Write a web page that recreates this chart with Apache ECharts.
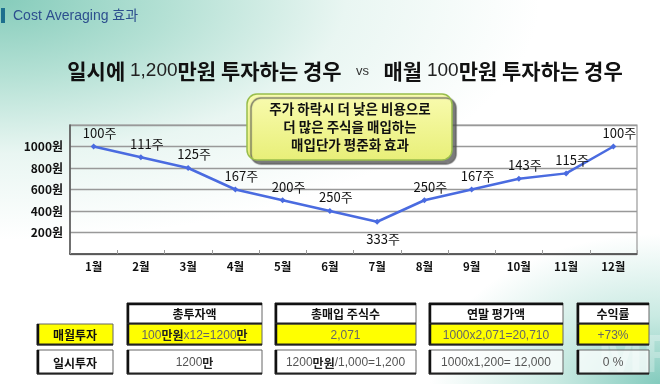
<!DOCTYPE html>
<html><head><meta charset="utf-8">
<script src="https://cdn.jsdelivr.net/npm/echarts@6/dist/echarts.min.js"></script>
<style>
html,body{margin:0;padding:0;}
body{width:660px;height:384px;overflow:hidden;
background:
 radial-gradient(ellipse 230px 150px at 100% 100%, rgba(125,200,186,0.95) 0%, rgba(165,220,207,0.6) 45%, rgba(255,255,255,0) 100%),
 radial-gradient(ellipse 540px 240px at 0% 0%, #86ccbb 0%, #b5e1d5 32%, #e9f6f2 64%, #ffffff 100%);
}
#c{width:660px;height:384px;}
</style></head>
<body><div id="c"></div>
<script>
// ---- data ----
const months = ['1월','2월','3월','4월','5월','6월','7월','8월','9월','10월','11월','12월'];
const prices = [1000, 900, 800, 600, 500, 400, 300, 500, 600, 700, 750, 1000];
const shares = [100, 111, 125, 167, 200, 250, 333, 250, 167, 143, 115, 100];
const yMin = 0, yMax = 1200, yStep = 200;
const headerTitle = 'Cost Averaging 효과';
const calloutLines = ['주가 하락시 더 낮은 비용으로', '더 많은 주식을 매입하는', '매입단가 평준화 효과'];
const tableHeaders = ['총투자액', '총매입 주식수', '연말 평가액', '수익률'];
const rowLabels = ['매월투자', '일시투자'];
const rowMonthly = ['100{b|만원}x12=1200{b|만}', '2,071', '1000x2,071=20,710', '+73%'];
const rowLump = ['1200{b|만}', '1200{b|만원}/1,000=1,200', '1000x1,200= 12,000', '0 %'];

const KR = '"Noto Sans CJK KR", "Noto Sans", sans-serif';
const NUM = '"Liberation Sans", Arial, "Noto Sans CJK KR", sans-serif';
const chart = echarts.init(document.getElementById('c'), null, {renderer:'canvas'});
const minIdx = prices.indexOf(Math.min(...prices));

// ---- table graphic ----
const cols = [[127,135],[275,141],[429,134],[577,72]];
const labelCol = [37,76];
const yHead = 303, hHead = 21, yR1 = 324, hR1 = 21, yR2 = 350, hR2 = 24;
const g = [];
function cell(x,y,w,h,fill,txt,bold,color,topThick,fam){
  g.push({type:'rect', shape:{x:x,y:y,width:w,height:h}, style:{fill:fill, stroke:'#666', lineWidth:1}, z:20});
  g.push({type:'line', shape:{x1:x+1,y1:y,x2:x+1,y2:y+h}, style:{stroke:'#111', lineWidth:2.5}, z:21});
  g.push({type:'line', shape:{x1:x,y1:y+h-0.5,x2:x+w,y2:y+h-0.5}, style:{stroke:'#222', lineWidth:1.8}, z:21});
  if(topThick) g.push({type:'line', shape:{x1:x,y1:y+1,x2:x+w,y2:y+1}, style:{stroke:'#111', lineWidth:2.5}, z:21});
  g.push({type:'text', x:x+w/2, y:y+h/2+1, z:22, style:{text:txt, align:'center', verticalAlign:'middle',
    fontFamily:fam, fontSize:12, fontWeight:bold?'bold':'normal', fill:color,
    rich:{b:{fontFamily:KR, fontSize:12, fontWeight:'bold', fill:'#222'}}}});
}
tableHeaders.forEach((t,i)=>cell(cols[i][0], yHead, cols[i][1], hHead, '#ffffff', t, true, '#111', true, KR));
rowMonthly.forEach((t,i)=>cell(cols[i][0], yR1, cols[i][1], hR1, '#ffff00', t, false, '#666', false, NUM));
rowLump.forEach((t,i)=>cell(cols[i][0], yR2, cols[i][1], hR2, 'rgba(255,255,255,0.75)', t, false, '#555', false, NUM));
cell(labelCol[0], yR1, labelCol[1], hR1, '#ffff00', rowLabels[0], true, '#111', false, KR);
cell(labelCol[0], yR2, labelCol[1], hR2, '#ffffff', rowLabels[1], true, '#111', false, KR);

// header, title, callout
g.push({type:'rect', shape:{x:1,y:8,width:4,height:15}, style:{fill:'#1d6f8e'}});
g.push({type:'text', x:13, y:16, style:{text:headerTitle, fontFamily:NUM, fontSize:14, fill:'#2d4f8e', verticalAlign:'middle'}});
g.push({type:'text', x:345, y:71, style:{
  text:'{b|일시에 }{n|1,200}{b|만원 투자하는 경우}{v|    vs    }{b|매월 }{n|100}{b|만원 투자하는 경우}',
  align:'center', verticalAlign:'middle',
  rich:{
    b:{fontFamily:KR, fontSize:21, fontWeight:'bold', fill:'#111'},
    n:{fontFamily:NUM, fontSize:19, fill:'#222'},
    v:{fontFamily:NUM, fontSize:13, fill:'#333'}
  }}});
g.push({type:'rect', z:30, shape:{x:247,y:94,width:205,height:66,r:10},
  style:{fill:{type:'linear',x:0,y:0,x2:0,y2:1,colorStops:[{offset:0,color:'#f9fbb0'},{offset:1,color:'#e8ef78'}]},
  stroke:'#98bd4c', lineWidth:1.5, shadowColor:'rgba(80,80,80,0.75)', shadowOffsetX:4, shadowOffsetY:4, shadowBlur:1}});
g.push({type:'text', z:31, x:350, y:127, style:{text:calloutLines.join('\n'), align:'center', verticalAlign:'middle',
  fontFamily:KR, fontSize:13.5, fontWeight:'bold', fill:'#111', lineHeight:18}});
g.push({type:'text', z:1, x:598, y:357, style:{text:'MF', fontFamily:NUM, fontSize:54, fontWeight:'bold', fill:'rgba(255,255,255,0.28)', verticalAlign:'middle'}});

chart.setOption({
  animation:false,
  backgroundColor:'transparent',
  grid:{left:70, top:125, width:567, height:129, show:true, borderColor:'#999', borderWidth:1.2, backgroundColor:'transparent'},
  xAxis:{type:'category', data:months, boundaryGap:true,
    axisLine:{lineStyle:{color:'#444', width:1.5}},
    axisTick:{show:true, inside:true, length:4, lineStyle:{color:'#999'}},
    axisLabel:{fontFamily:KR, fontWeight:'bold', fontSize:11.5, color:'#111', margin:7}},
  yAxis:{type:'value', min:yMin, max:yMax, interval:yStep,
    axisLine:{show:true, lineStyle:{color:'#555', width:1.5}},
    axisTick:{show:false},
    splitLine:{lineStyle:{color:'#999', width:1.3}},
    axisLabel:{formatter:v => (v===yMin||v===yMax)?'':v+'원', fontFamily:KR, fontWeight:'bold', fontSize:12, color:'#111', margin:7}},
  series:[{type:'line', data:prices.map((v,i)=>({value:v, label: i===minIdx ? {position:'bottom', distance:8, offset:[6,0]} : {}})),
    lineStyle:{color:'#4a6be0', width:2.5}, itemStyle:{color:'#4a6be0'},
    symbol:'diamond', symbolSize:6,
    label:{show:true, position:'top', distance:4, offset:[6,0], formatter:p => shares[p.dataIndex]+'주',
      fontFamily:KR, fontSize:13, color:'#111'}}],
  graphic:g
});
</script></body></html>
